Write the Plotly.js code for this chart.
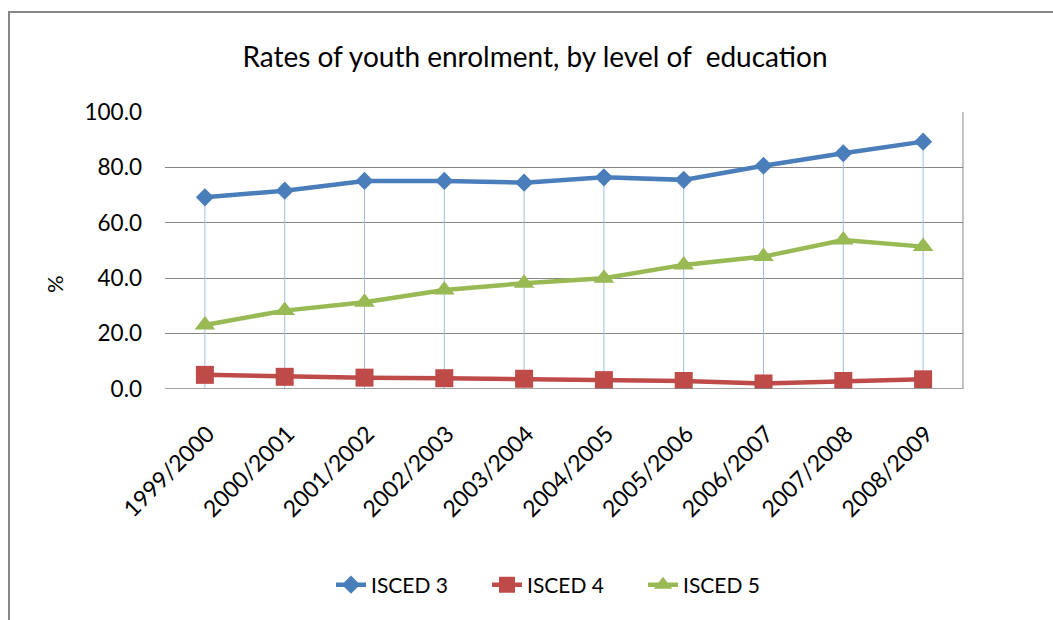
<!DOCTYPE html>
<html>
<head>
<meta charset="utf-8">
<script src="https://cdn.plot.ly/plotly-3.0.1.min.js"></script>
<style>
  html, body { margin: 0; padding: 0; background: #fff; }
  #wrap { position: relative; width: 1053px; height: 620px; overflow: hidden; }
  #chart { position: absolute; left: 0; top: 0; width: 1053px; height: 620px; }
  #frame { position: absolute; left: 8px; top: 11px; width: 1100px; height: 700px;
           border-top: 2px solid #878787; border-left: 2px solid #878787; pointer-events: none; }
</style>
</head>
<body>
<div id="wrap">
  <div id="chart"></div>
  <div id="frame"></div>
</div>
<script>
const years = ["1999/2000","2000/2001","2001/2002","2002/2003","2003/2004",
               "2004/2005","2005/2006","2006/2007","2007/2008","2008/2009"];
const isced3 = [69.2, 71.6, 75.1, 75.1, 74.5, 76.4, 75.5, 80.6, 85.1, 89.3];
const isced4 = [5.1, 4.4, 4.1, 3.9, 3.7, 3.2, 2.9, 2.0, 2.9, 3.5];
const isced5 = [23.1, 28.3, 31.3, 35.7, 38.2, 40.0, 44.8, 47.8, 53.8, 51.4];
const yTicks = [0, 20, 40, 60, 80, 100];
const yTickLabels = ["0.0", "20.0", "40.0", "60.0", "80.0", "100.0"];

const FONT = "Lato, 'Open Sans', sans-serif";

// drop lines from the highest value to the axis at each category
const dropX = [], dropY = [];
years.forEach((yr, i) => {
  const top = Math.max(isced3[i], isced4[i], isced5[i]);
  dropX.push(yr, yr, null);
  dropY.push(0, top, null);
});

const traces = [
  { x: dropX, y: dropY, mode: "lines", showlegend: false, hoverinfo: "skip",
    line: { color: "#a3bde3", width: 1 } },
  { x: years, y: isced3, name: "ISCED 3", mode: "lines+markers",
    line: { color: "#4a7ebb", width: 4.5 },
    marker: { symbol: "diamond", size: 14, color: "#4a7ebb" } },
  { x: years, y: isced4, name: "ISCED 4", mode: "lines+markers",
    line: { color: "#be4b48", width: 4.5 },
    marker: { symbol: "square", size: 18, color: "#be4b48" } },
  { x: years, y: isced5, name: "ISCED 5", mode: "lines+markers",
    line: { color: "#98b954", width: 4.5 },
    marker: { symbol: "triangle-up", size: 18, color: "#98b954" } }
];

const L = 165, R = 90, T = 112, B = 231, W = 1053, H = 620;
const plotW = W - L - R, plotH = H - T - B;
const px2x = px => (px - L) / plotW;
const py2y = py => (H - B - py) / plotH;

const layout = {
  width: W, height: H,
  margin: { l: L, r: R, t: T, b: B },
  paper_bgcolor: "#fff", plot_bgcolor: "#fff",
  font: { family: FONT, color: "#000", size: 21 },
  title: { text: "Rates of youth enrolment, by level of  education",
           font: { family: FONT, size: 28, color: "#000" },
           x: 535 / W, xref: "container", xanchor: "center",
           y: 1 - 57 / H, yanchor: "middle" },
  xaxis: { type: "category", range: [-0.5, years.length - 0.5],
           tickangle: -45, showgrid: false, showline: false, zeroline: false,
           ticks: "", tickfont: { size: 23 }, ticklabelstandoff: 26, ticklabelshift: 3,
           automargin: false },
  yaxis: { range: [0, 100], tickvals: yTicks, ticktext: yTickLabels,
           showgrid: true, gridcolor: "#878787", gridwidth: 1,
           zeroline: false, showline: false, ticks: "", ticklabelstandoff: 22,
           tickfont: { size: 22.5 }, automargin: false },
  annotations: [
    { text: "%", textangle: -90, showarrow: false, xref: "paper", yref: "paper",
      x: px2x(54), y: py2y(284), xanchor: "center", yanchor: "middle",
      font: { size: 22, color: "#000" } }
  ],
  showlegend: true,
  legend: { orientation: "h", x: px2x(331), xanchor: "left",
            y: py2y(585), yanchor: "middle", font: { size: 21 },
            traceorder: "normal", entrywidth: 111, entrywidthmode: "pixels" },
  shapes: [
    { type: "line", xref: "x domain", yref: "y domain", x0: 1, x1: 1, y0: 0, y1: 1,
      line: { color: "#878787", width: 1 } },
    { type: "line", xref: "x domain", yref: "y", x0: 0, x1: 1, y0: 0, y1: 0,
      line: { color: "#878787", width: 1.5 } }
  ]
};

Plotly.newPlot("chart", traces, layout, { displayModeBar: false, staticPlot: true });
</script>
</body>
</html>
